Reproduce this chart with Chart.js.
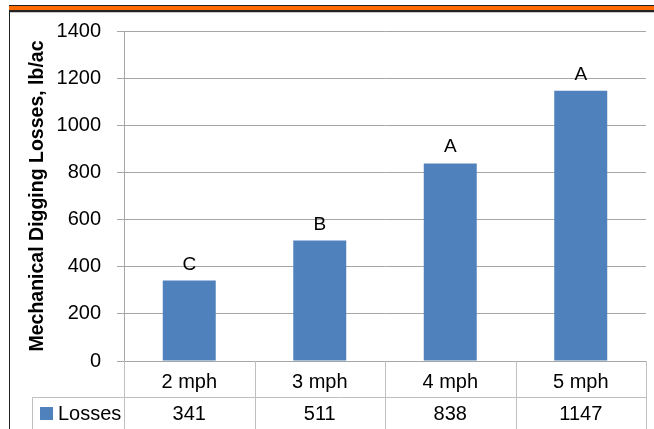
<!DOCTYPE html>
<html lang="en">
<head>
  <meta charset="UTF-8" />
  <title>Mechanical Digging Losses</title>
  <script src="https://cdn.jsdelivr.net/npm/chart.js"></script>
  <style>
    body {
      margin: 0;
      background: #fff;
    }

    .frame {
      position: relative;
      width: 654px;
      height: 429px;
      overflow: hidden;
    }

    /* orange rule across the top of the slide */
    .band {
      position: absolute;
      left: 9px;
      right: 0;
      top: 5px;
      height: 4px;
      background: #ff6a00;
      border-top: 1px solid #222;
      border-bottom: 2px solid #222;
      box-shadow: 0 1px 0 #c8c8c8;
      z-index: 2;
    }

    .edge {
      position: absolute;
      left: 9px;
      top: 12px;
      bottom: 0;
      width: 1px;
      background: #222;
      z-index: 2;
    }

    canvas {
      position: absolute;
      left: 0;
      top: 0;
    }
  </style>
</head>

<body>
  <div class="frame">
    <div class="band"></div>
    <div class="edge"></div>
    <canvas id="lossChart" width="654" height="429"></canvas>
  </div>

  <script>
    const speeds = ["2 mph", "3 mph", "4 mph", "5 mph"];
    const losses = [341, 511, 838, 1147];
    const letters = ["C", "B", "A", "A"];
    const seriesName = "Losses";
    const yTitle = "Mechanical Digging Losses, lb/ac";
    const yMax = 1400;
    const yStep = 200;

    const barColor = "#4f81bd";
    const fontFamily = "'Liberation Sans', Arial, sans-serif";
    Chart.defaults.font.family = fontFamily;

    // significance letters above each bar
    const letterPlugin = {
      id: "letters",
      afterDatasetsDraw(chart) {
        const ctx = chart.ctx;
        const meta = chart.getDatasetMeta(0);
        ctx.save();
        ctx.font = "19px " + fontFamily;
        ctx.fillStyle = "#000";
        ctx.textAlign = "center";
        ctx.textBaseline = "alphabetic";
        meta.data.forEach((bar, i) => ctx.fillText(letters[i], bar.x, bar.y - 11));
        ctx.restore();
      }
    };

    // Excel style data table under the plot
    const tablePlugin = {
      id: "dataTable",
      afterDraw(chart) {
        const { ctx, chartArea: a, scales } = chart;
        const x = scales.x;
        const top = a.bottom;
        const mid = 397.5;
        const bottom = chart.height;
        const cellLeft = 32.5;

        const line = (x1, y1, x2, y2) => {
          ctx.beginPath();
          ctx.moveTo(x1, y1);
          ctx.lineTo(x2, y2);
          ctx.stroke();
        };

        ctx.save();
        ctx.strokeStyle = "#bfbfbf";
        ctx.lineWidth = 1;
        for (let i = 0; i <= speeds.length; i++) {
          let xb;
          if (i === 0) xb = a.left;
          else if (i === speeds.length) xb = a.right;
          else xb = (x.getPixelForValue(i - 1) + x.getPixelForValue(i)) / 2;
          xb = Math.round(xb) + 0.5;
          line(xb, top, xb, bottom);
        }
        line(cellLeft, mid, a.right, mid);
        line(cellLeft, mid, cellLeft, bottom);

        ctx.fillStyle = barColor;
        ctx.fillRect(40, 407, 13, 13);

        ctx.fillStyle = "#000";
        ctx.font = "20px " + fontFamily;
        ctx.textBaseline = "middle";
        ctx.textAlign = "left";
        ctx.fillText(seriesName, 58, 414);
        ctx.textAlign = "center";
        losses.forEach((v, i) => ctx.fillText(String(v), x.getPixelForValue(i), 414));
        ctx.restore();
      }
    };

    const ctx = document.getElementById("lossChart").getContext("2d");
    new Chart(ctx, {
      type: "bar",
      data: {
        labels: speeds,
        datasets: [{
          label: seriesName,
          data: losses,
          backgroundColor: barColor,
          barPercentage: 0.406,
          categoryPercentage: 1
        }]
      },
      options: {
        responsive: false,
        devicePixelRatio: 1,
        animation: false,
        layout: {
          padding: { top: 31, right: 8, left: 0, bottom: 0 }
        },
        plugins: {
          legend: { display: false },
          tooltip: { enabled: false }
        },
        scales: {
          x: {
            grid: { display: false },
            border: { display: false },
            ticks: { color: "#000", font: { size: 20 }, padding: 1 },
            afterFit(s) { s.height = 68; }
          },
          y: {
            min: 0,
            max: yMax,
            ticks: {
              stepSize: yStep,
              color: "#000",
              font: { size: 20 },
              padding: 16,
              callback: v => String(v)
            },
            grid: { color: "#a6a6a6", tickLength: 7, tickColor: "#a6a6a6" },
            border: { display: true, color: "#a6a6a6" },
            title: {
              display: true,
              text: yTitle,
              color: "#000",
              font: { size: 19.5, weight: "bold" },
              padding: { top: 26, bottom: 0 }
            },
            afterFit(s) { s.width = 124; }
          }
        }
      },
      plugins: [letterPlugin, tablePlugin]
    });
  </script>
</body>
</html>
